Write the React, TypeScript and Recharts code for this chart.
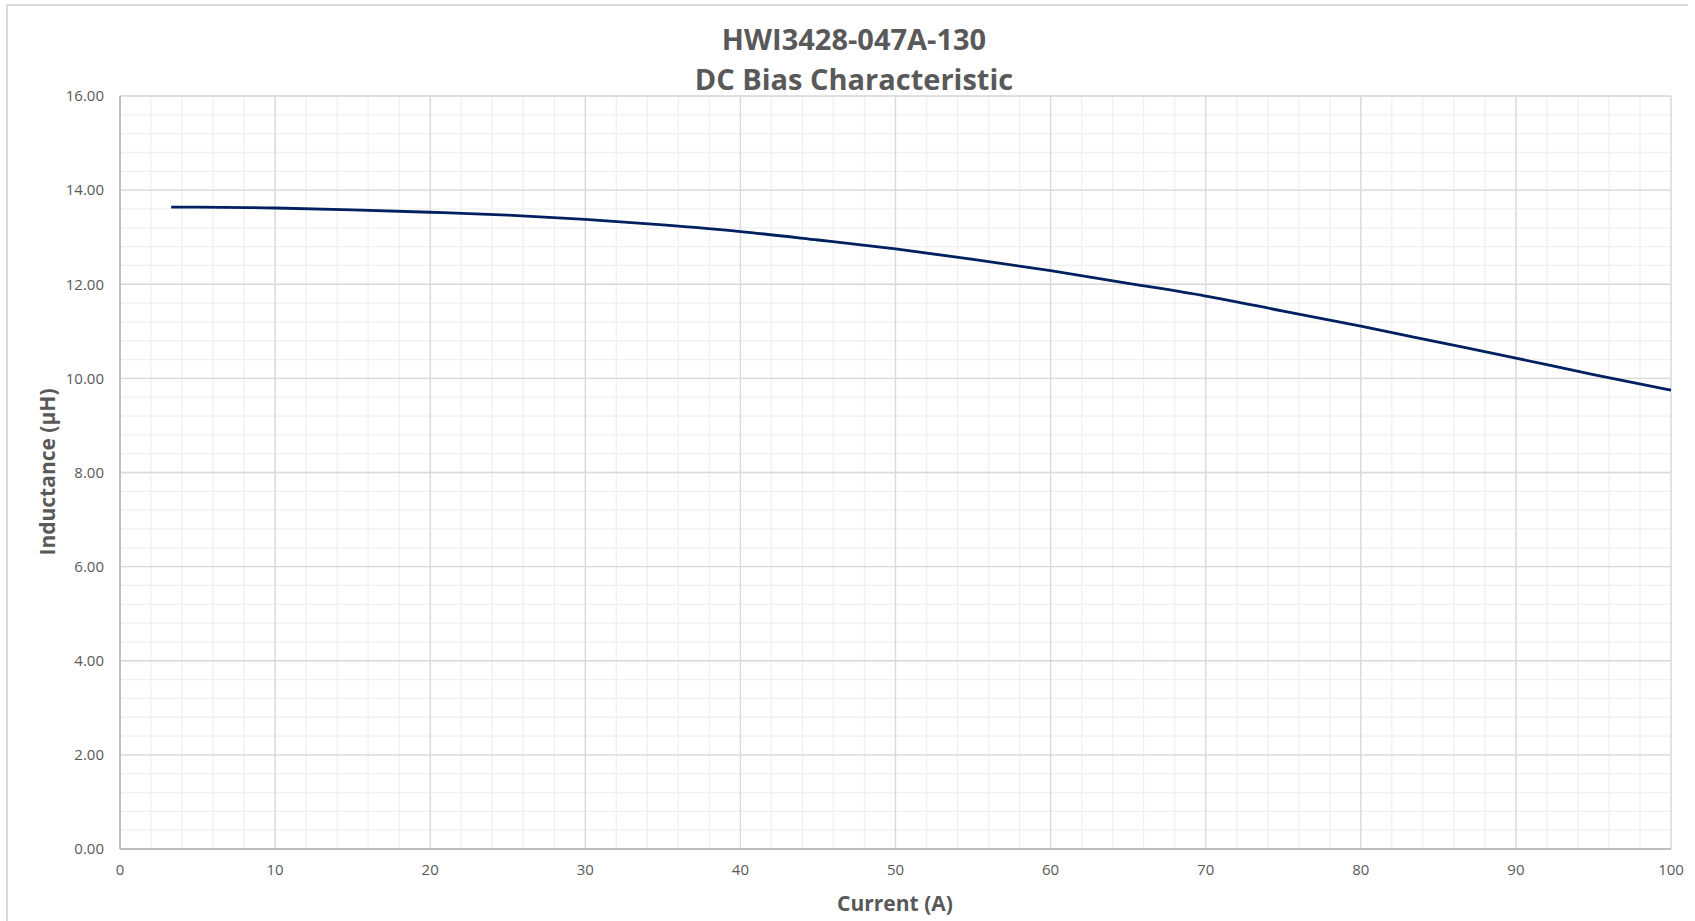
import React from "react";
import {
  CartesianGrid,
  Line,
  LineChart,
  XAxis,
  YAxis,
} from "recharts";

// measured DC bias curve (current in A, inductance in µH)
const currentA = [3.3, 5, 10, 15, 20, 25, 30, 35, 40, 45, 50, 55, 60, 65, 70, 75, 80, 85, 90, 95, 100];
const inductanceUH = [
  13.64, 13.64, 13.62, 13.58, 13.53, 13.47, 13.38, 13.26, 13.12, 12.94, 12.75,
  12.53, 12.29, 12.02, 11.75, 11.43, 11.11, 10.77, 10.43, 10.08, 9.75,
];

const xTicks = [0, 10, 20, 30, 40, 50, 60, 70, 80, 90, 100];
const yTicks = [0, 2, 4, 6, 8, 10, 12, 14, 16];
const xMinorTicks = Array.from({ length: 51 }, (_, i) => i * 2);
const yMinorTicks = Array.from({ length: 41 }, (_, i) => +(i * 0.4).toFixed(1));

const titleLines = ["HWI3428-047A-130", "DC Bias Characteristic"];
const xTitle = "Current (A)";
const yTitle = "Inductance (µH)";

const data = currentA.map((c, i) => ({ current: c, inductance: inductanceUH[i] }));

const FONT = "'Open Sans', 'Noto Sans', sans-serif";
const TEXT = "#595959";

export default function App() {
  return (
    <div
      style={{
        position: "absolute",
        left: 0,
        top: 0,
        width: 1695,
        height: 921,
        background: "#fff",
        overflow: "hidden",
        fontFamily: FONT,
      }}
    >
      <div
        style={{
          position: "absolute",
          left: 6,
          top: 4,
          width: 1680,
          height: 940,
          borderTop: "2px solid #d9d9d9",
          borderLeft: "2px solid #d9d9d9",
        }}
      />
      {titleLines.map((t, i) => (
        <div
          key={t}
          style={{
            position: "absolute",
            left: 554,
            width: 600,
            top: 19 + i * 40,
            lineHeight: "40px",
            textAlign: "center",
            fontSize: 29,
            fontWeight: 700,
            color: TEXT,
          }}
        >
          {t}
        </div>
      ))}
      <div
        style={{
          position: "absolute",
          left: 795,
          width: 200,
          top: 888,
          lineHeight: "30px",
          textAlign: "center",
          fontSize: 21,
          fontWeight: 700,
          color: TEXT,
        }}
      >
        {xTitle}
      </div>
      <div
        style={{
          position: "absolute",
          left: 47 - 150,
          width: 300,
          top: 472 - 15,
          lineHeight: "30px",
          textAlign: "center",
          fontSize: 21,
          fontWeight: 700,
          color: TEXT,
          transform: "rotate(-90deg)",
        }}
      >
        {yTitle}
      </div>
      <div style={{ position: "absolute", left: 0, top: 0 }}>
        <LineChart
          width={1695}
          height={921}
          data={data}
          margin={{ top: 96, right: 24, bottom: 32, left: 0 }}
        >
          <XAxis xAxisId="minor" dataKey="current" type="number" domain={[0, 100]} ticks={xMinorTicks} interval={0} hide />
          <YAxis yAxisId="minor" dataKey="inductance" type="number" domain={[0, 16]} ticks={yMinorTicks} interval={0} hide />
          <CartesianGrid xAxisId="minor" yAxisId="minor" stroke="#f0f0f0" strokeWidth={1.3} />
          <CartesianGrid stroke="#d9d9d9" strokeWidth={1.3} />
          <XAxis
            dataKey="current"
            type="number"
            domain={[0, 100]}
            ticks={xTicks}
            height={40}
            axisLine={{ stroke: "#bfbfbf", strokeWidth: 2 }}
            tickLine={false}
            tickMargin={9}
            tick={{ fontSize: 15, fill: TEXT, fontFamily: FONT }}
            interval={0}
          />
          <YAxis
            type="number"
            domain={[0, 16]}
            ticks={yTicks}
            width={120}
            axisLine={{ stroke: "#bfbfbf", strokeWidth: 2 }}
            tickLine={false}
            tickMargin={10}
            tickFormatter={(v: number) => v.toFixed(2)}
            tick={{ fontSize: 15, fill: TEXT, fontFamily: FONT }}
            interval={0}
          />
          <Line
            dataKey="inductance"
            type="monotone"
            stroke="#002060"
            strokeWidth={2.8}
            dot={false}
            isAnimationActive={false}
          />
        </LineChart>
      </div>
    </div>
  );
}
